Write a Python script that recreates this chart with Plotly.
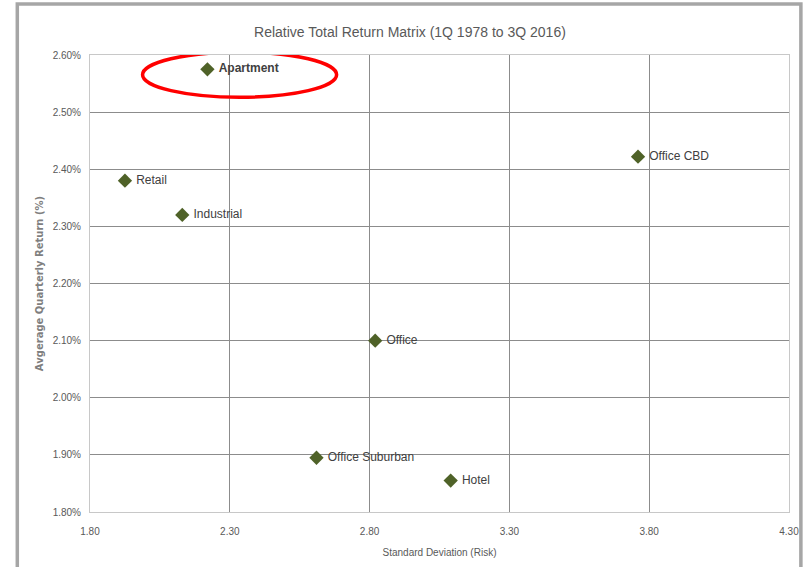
import plotly.graph_objects as go

names = ["Apartment", "Retail", "Industrial", "Office CBD", "Office", "Office Suburban", "Hotel"]
risk = [2.22, 1.925, 2.13, 3.76, 2.82, 2.61, 3.09]
ret = [2.575, 2.38, 2.32, 2.422, 2.10, 1.895, 1.855]
x_ticks = [1.80, 2.30, 2.80, 3.30, 3.80, 4.30]
y_ticks = [1.80, 1.90, 2.00, 2.10, 2.20, 2.30, 2.40, 2.50, 2.60]

FONT = "Liberation Sans Narrow, Arial Narrow, Liberation Sans, sans-serif"

labels = [f" <b>{n}</b>" if n == "Apartment" else f" {n}" for n in names]

fig = go.Figure()
fig.add_trace(go.Scatter(
    x=risk, y=ret, mode="markers+text", text=labels, textposition="middle right",
    marker=dict(symbol="diamond", size=11, color="#4f6228"),
    textfont=dict(family=FONT, size=12, color="#404040"),
    cliponaxis=False, showlegend=False, hoverinfo="skip",
))

fig.update_layout(
    width=807, height=567,
    margin=dict(l=90, r=18, t=55, b=55, autoexpand=False),
    paper_bgcolor="white", plot_bgcolor="white",
    title=dict(text="Relative Total Return Matrix (1Q 1978 to 3Q 2016)", x=0.508, xanchor="center",
               y=0.944, yanchor="middle",
               font=dict(family=FONT, size=14, color="#595959")),
    xaxis=dict(range=[1.80, 4.30], tickvals=x_ticks, ticktext=[f"{v:.2f}" for v in x_ticks],
               automargin=False,
               showgrid=True, gridcolor="#8c8c8c", gridwidth=1, zeroline=False,
               showline=True, linecolor="#c8c8c8", linewidth=1, mirror=True,
               ticks="", ticklabelstandoff=10,
               tickfont=dict(family=FONT, size=10, color="#595959"),
               title=dict(text="Standard Deviation (Risk)", standoff=12,
                          font=dict(family=FONT, size=10, color="#595959"))),
    yaxis=dict(range=[1.80, 2.60], tickvals=y_ticks, ticktext=[f"{v:.2f}%" for v in y_ticks],
               automargin=False,
               showgrid=True, gridcolor="#8c8c8c", gridwidth=1, zeroline=False,
               showline=True, linecolor="#c8c8c8", linewidth=1, mirror=True,
               ticks="", ticklabelstandoff=6,
               tickfont=dict(family=FONT, size=10, color="#595959"),
               title=dict(text="<b>Avgerage Quarterly Return (%)</b>", standoff=7,
                          font=dict(family="DejaVu Sans, sans-serif", size=10, color="#7f7f7f"))),
)

# highlight ellipse around Apartment
ax, ay = risk[0], ret[0]
fig.add_shape(type="circle", xref="x", yref="y",
              x0=ax - 0.232, x1=ax + 0.462, y0=ay - 0.049, y1=ay + 0.03,
              line=dict(color="#ff0000", width=3.5))

# outer frame
fig.add_shape(type="rect", xref="paper", yref="paper",
              x0=-0.104, x1=1.017, y0=-0.2, y1=1.1116,
              line=dict(color="#a6a6a6", width=3.5), layer="below")

fig.write_html("out.html", config={"displayModeBar": False},
               post_script="document.body.style.margin='0';")
